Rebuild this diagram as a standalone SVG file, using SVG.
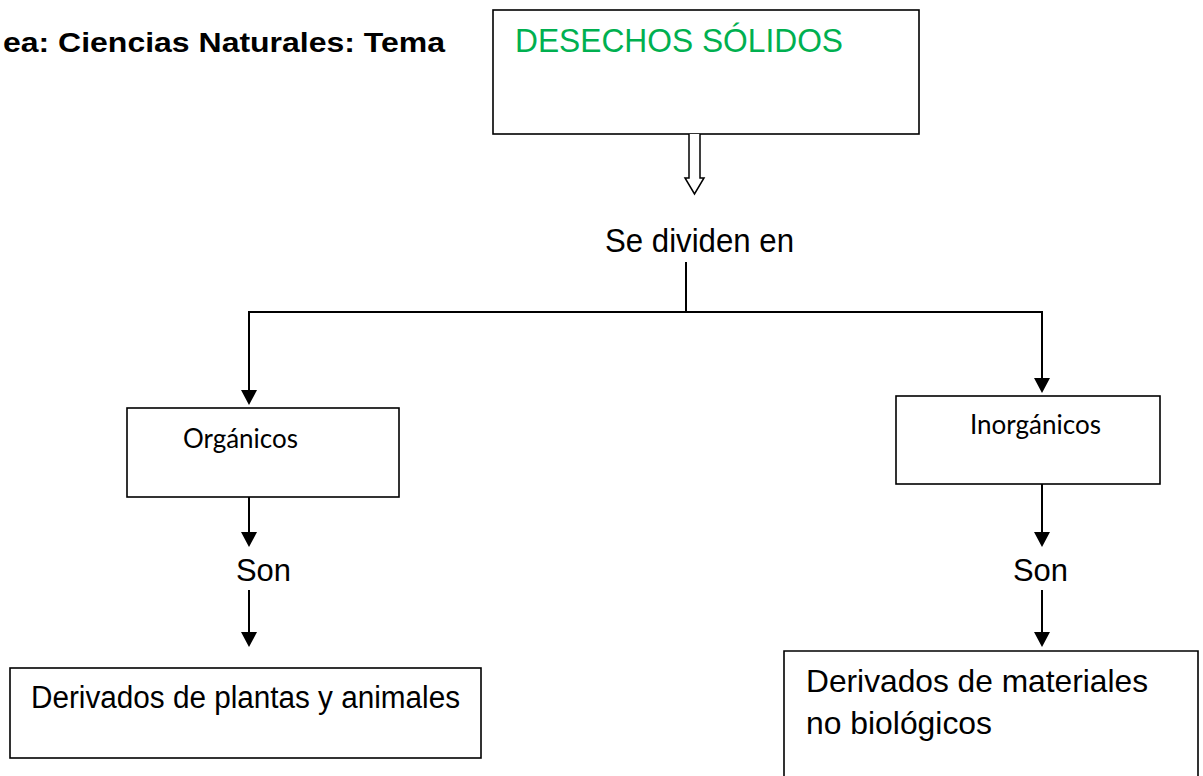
<svg xmlns="http://www.w3.org/2000/svg" width="1203" height="776" viewBox="0 0 1203 776">
<style>
.box{fill:#fff;stroke:#000;stroke-width:1.6}
.ln{fill:none;stroke:#000;stroke-width:2}
.ar{fill:#000}
.t{font-family:"Liberation Sans",Arial,sans-serif;fill:#000}
.c{font-family:Lato,"Open Sans",sans-serif;fill:#000}
</style>
<rect width="1203" height="776" fill="#fff"/>
<text class="t" x="3" y="52" font-size="28" font-weight="bold" textLength="442" lengthAdjust="spacingAndGlyphs">ea: Ciencias Naturales: Tema</text>
<g id="n-desechos">
<rect class="box" x="493" y="10" width="426" height="124"/>
<text class="t" x="515" y="52" font-size="32.5" style="fill:#00B050" textLength="328" lengthAdjust="spacingAndGlyphs">DESECHOS SÓLIDOS</text>
</g>
<g id="n-dividen">
<text class="t" x="605" y="252" font-size="33.5" textLength="189" lengthAdjust="spacingAndGlyphs">Se dividen en</text>
</g>
<g id="n-organicos">
<rect class="box" x="127" y="408" width="272" height="89"/>
<text class="c" x="183" y="448" font-size="27" textLength="115" lengthAdjust="spacingAndGlyphs">Orgánicos</text>
</g>
<g id="n-inorganicos">
<rect class="box" x="896" y="396" width="264" height="88"/>
<text class="c" x="970" y="434" font-size="27" textLength="131" lengthAdjust="spacingAndGlyphs">Inorgánicos</text>
</g>
<g id="n-son1">
<text class="t" x="236" y="581" font-size="30.5" textLength="55" lengthAdjust="spacingAndGlyphs">Son</text>
</g>
<g id="n-son2">
<text class="t" x="1013" y="581" font-size="30.5" textLength="55" lengthAdjust="spacingAndGlyphs">Son</text>
</g>
<g id="n-plantas">
<rect class="box" x="10" y="668" width="471" height="90"/>
<text class="t" x="31" y="708" font-size="31" textLength="429" lengthAdjust="spacingAndGlyphs">Derivados de plantas y animales</text>
</g>
<g id="n-materiales">
<path class="box" d="M784,780 V651 H1198 V780"/>
<text class="t" x="806" y="692" font-size="32" textLength="342" lengthAdjust="spacingAndGlyphs">Derivados de materiales</text>
<text class="t" x="806" y="734" font-size="32" textLength="186" lengthAdjust="spacingAndGlyphs">no biológicos</text>
</g>
<g id="connectors">
<path d="M689,134 V178 H685 L694.5,194 L704,178 H700 V134" fill="#fff" stroke="#000" stroke-width="1.5"/>
<path class="ln" d="M686,262 V312"/>
<path class="ln" d="M249,312 H1042"/>
<path class="ln" d="M249,311 V392"/>
<polygon class="ar" points="241,390 257,390 249,405"/>
<path class="ln" d="M1042,311 V380"/>
<polygon class="ar" points="1034,378 1050,378 1042,393"/>
<path class="ln" d="M249,497 V534"/>
<polygon class="ar" points="241,532 257,532 249,547"/>
<path class="ln" d="M249,590 V634"/>
<polygon class="ar" points="241,632 257,632 249,647"/>
<path class="ln" d="M1042,484 V534"/>
<polygon class="ar" points="1034,532 1050,532 1042,547"/>
<path class="ln" d="M1042,590 V634"/>
<polygon class="ar" points="1034,632 1050,632 1042,647"/>
</g>
</svg>
